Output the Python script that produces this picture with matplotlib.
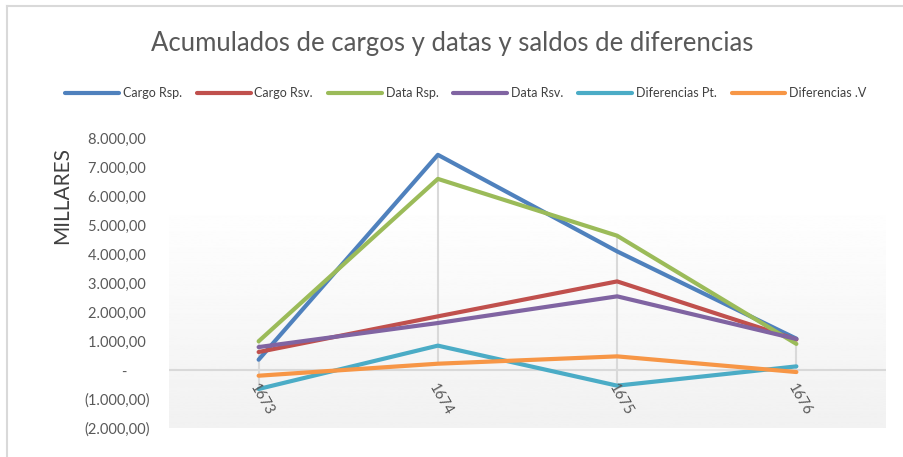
import numpy as np
import matplotlib.pyplot as plt
from matplotlib.ticker import FuncFormatter

plt.rcParams['font.family'] = ['Lato', 'DejaVu Sans']

years = ["1673", "1674", "1675", "1676"]
cargo_rsp = [355, 7420, 4090, 1080]
cargo_rsv = [620, 1850, 3055, 1050]
data_rsp = [990, 6590, 4630, 900]
data_rsv = [790, 1620, 2540, 1070]
dif_pt = [-655, 840, -540, 125]
dif_v = [-197, 217, 470, -70]

names = ["Cargo Rsp.", "Cargo Rsv.", "Data Rsp.", "Data Rsv.", "Diferencias Pt.", "Diferencias .V"]
colors = ["#4F81BD", "#C0504D", "#9BBB59", "#8064A2", "#4BACC6", "#F79646"]
series = [cargo_rsp, cargo_rsv, data_rsp, data_rsv, dif_pt, dif_v]

W, H = 904, 457
fig = plt.figure(figsize=(W / 100, H / 100), dpi=100)

# chart border (cropped on the right and bottom)
fig.add_artist(plt.Line2D([7 / W, 1], [1 - 6 / H] * 2, color="#d9d9d9", lw=1.5))
fig.add_artist(plt.Line2D([7 / W] * 2, [0, 1 - 6 / H], color="#d9d9d9", lw=1.5))

left, right, top, bot = 169, 886, 138, 428
ax = fig.add_axes([left / W, 1 - bot / H, (right - left) / W, (bot - top) / H])

x = np.arange(len(years))
ax.set_xlim(-0.5, len(years) - 0.5)
ax.set_ylim(-2000, 8000)

# plot area gradient
grad = np.linspace(0.945, 1.0, 256).reshape(-1, 1)
ax.imshow(grad, extent=[-0.5, len(years) - 0.5, -2070, 5900], aspect="auto",
          cmap="gray", vmin=0, vmax=1, origin="lower", zorder=0)

ax.axhline(0, color="#d9d9d9", lw=1.5, zorder=1)

# high-low lines
arr = np.array(series)
ax.vlines(x, arr.min(axis=0), arr.max(axis=0), color="#d9d9d9", lw=1.5, zorder=1)

for name, col, vals in zip(names, colors, series):
    ax.plot(x, vals, color=col, lw=3, label=name, solid_capstyle="round", zorder=3)

def fmt(v, pos):
    if abs(v) < 1e-9:
        return "-      "
    s = f"{abs(v):,.2f}".replace(",", "X").replace(".", ",").replace("X", ".")
    return f"({s})" if v < 0 else s + " "

ax.yaxis.set_major_formatter(FuncFormatter(fmt))
ax.set_yticks(np.arange(-2000, 8001, 1000))
ax.tick_params(axis="y", length=0, pad=14, labelsize=10.5, labelcolor="#595959")
ax.set_xticks(x)
ax.set_xticklabels([])
for xi, lab in zip(x, years):
    ax.text(xi - 0.03, -520, lab, rotation=-60, rotation_mode="anchor", ha="left", va="center",
            fontsize=10.5, color="#595959", zorder=4)
ax.tick_params(axis="x", length=0)
for sp in ax.spines.values():
    sp.set_visible(False)

fig.text(62 / W, 1 - 195 / H, "MILLARES", rotation=90, ha="center", va="center",
         fontsize=15, color="#404040")
fig.text(0.5, 1 - 43 / H, "Acumulados de cargos y datas y saldos de diferencias",
         ha="center", va="center", fontsize=18.5, color="#595959")

fig.legend(loc="center", bbox_to_anchor=(466 / W, 1 - 93 / H), ncol=6, frameon=False,
           fontsize=9, handlelength=4.3, handletextpad=0.3, columnspacing=1.2,
           labelcolor="#404040")

fig.savefig("out.png", dpi=100)
